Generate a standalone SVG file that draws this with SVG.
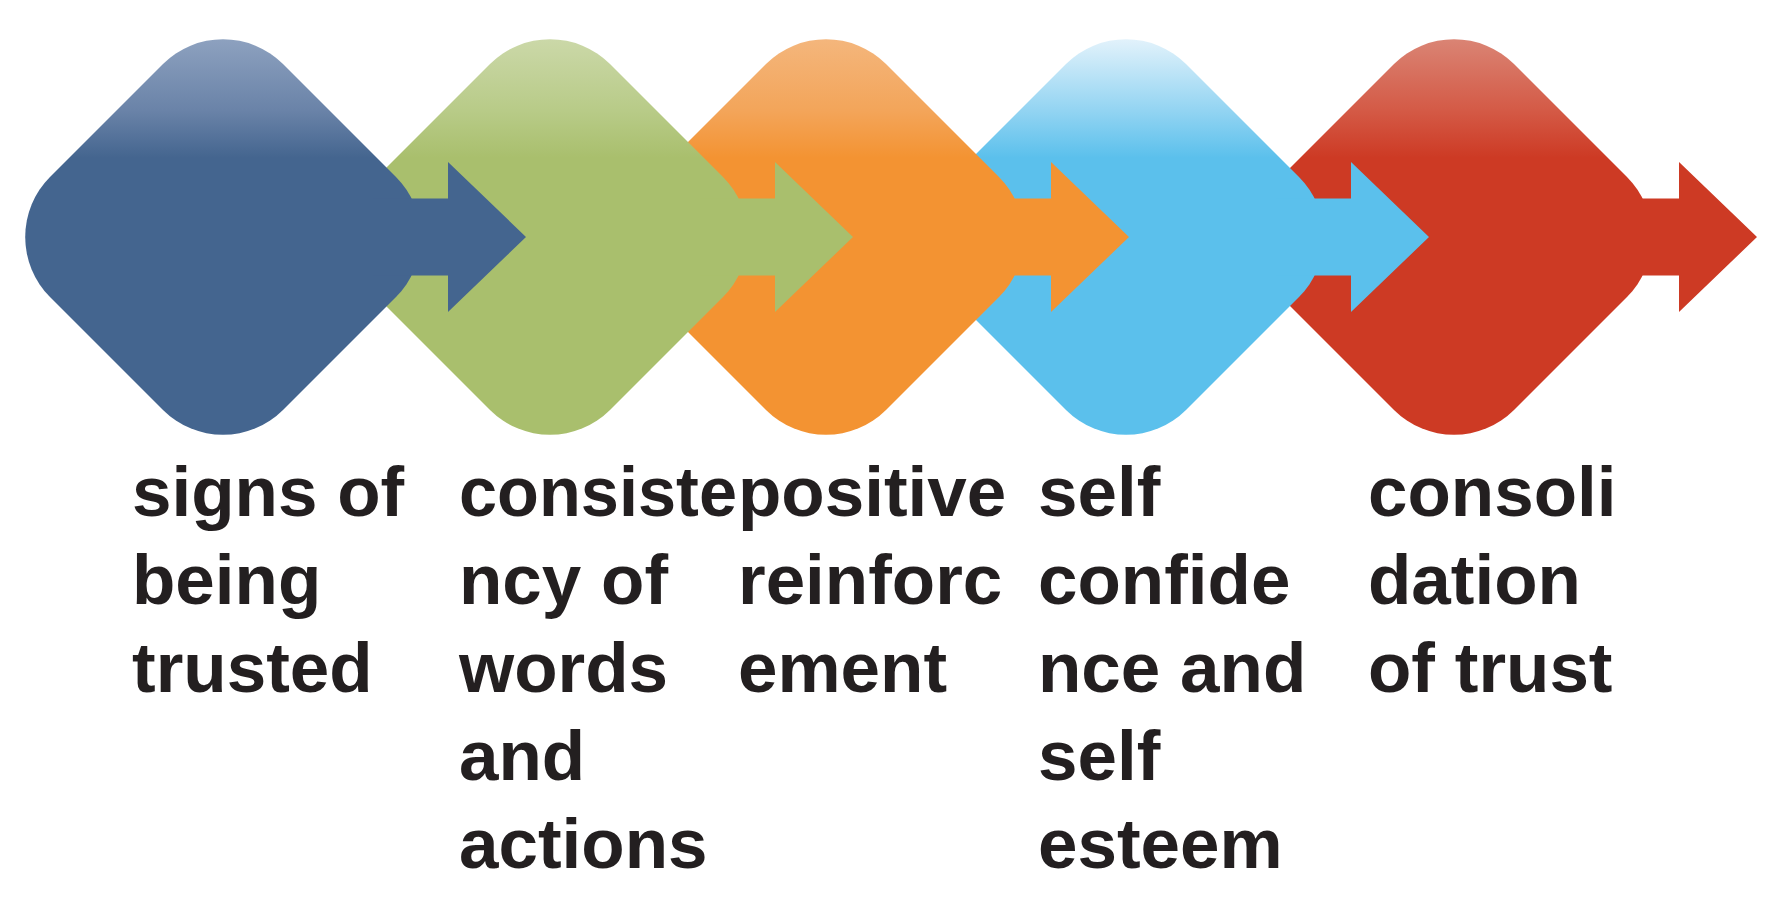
<svg xmlns="http://www.w3.org/2000/svg" xmlns:xlink="http://www.w3.org/1999/xlink" width="1784" height="904" viewBox="0 0 1784 904">
<defs>
<style>
.lbl{font-family:"Liberation Sans",Arial,sans-serif;font-weight:bold;font-size:71px;fill:#231f20}
</style>
<path id="dia" d="M-60,-173 A85,85 0 0 1 60,-173 L173,-60 A85,85 0 0 1 173,60 L60,173 A85,85 0 0 1 -60,173 L-173,60 A85,85 0 0 1 -173,-60 Z"/>
<path id="arr" d="M150,-38.5 L225,-38.5 L225,-75 L303,0 L225,75 L225,38.5 L150,38.5 Z"/>
<linearGradient id="gBlue" x1="0" y1="0" x2="0" y2="1">
<stop offset="0" stop-color="#8da1bf"/><stop offset="0.18" stop-color="#6a83a8"/><stop offset="0.3" stop-color="#44658f"/><stop offset="1" stop-color="#44658f"/>
</linearGradient>
<linearGradient id="gGreen" x1="0" y1="0" x2="0" y2="1">
<stop offset="0" stop-color="#cbd8a8"/><stop offset="0.18" stop-color="#b8cb88"/><stop offset="0.3" stop-color="#a9bf6d"/><stop offset="1" stop-color="#a9bf6d"/>
</linearGradient>
<linearGradient id="gOrange" x1="0" y1="0" x2="0" y2="1">
<stop offset="0" stop-color="#f4b67c"/><stop offset="0.18" stop-color="#f3a55a"/><stop offset="0.3" stop-color="#f39332"/><stop offset="1" stop-color="#f39332"/>
</linearGradient>
<linearGradient id="gLight" x1="0" y1="0" x2="0" y2="1">
<stop offset="0" stop-color="#e2f2fb"/><stop offset="0.18" stop-color="#93d4f2"/><stop offset="0.3" stop-color="#5bc0ec"/><stop offset="1" stop-color="#5bc0ec"/>
</linearGradient>
<linearGradient id="gRed" x1="0" y1="0" x2="0" y2="1">
<stop offset="0" stop-color="#da8474"/><stop offset="0.18" stop-color="#d45a46"/><stop offset="0.3" stop-color="#cd3a24"/><stop offset="1" stop-color="#cd3a24"/>
</linearGradient>
</defs>
<rect width="1784" height="904" fill="#ffffff"/>

<g id="node-consolidation">
<use xlink:href="#dia" href="#dia" transform="translate(1454,237)" fill="url(#gRed)"/>
<text class="lbl" x="1368" y="516">consoli</text>
<text class="lbl" x="1368" y="604">dation</text>
<text class="lbl" x="1368" y="692">of trust</text>
</g>
<g id="node-self-confidence">
<use xlink:href="#dia" href="#dia" transform="translate(1126,237)" fill="url(#gLight)"/>
<text class="lbl" x="1038" y="516">self</text>
<text class="lbl" x="1038" y="604">confide</text>
<text class="lbl" x="1038" y="692">nce and</text>
<text class="lbl" x="1038" y="780">self</text>
<text class="lbl" x="1038" y="868">esteem</text>
</g>
<g id="node-positive-reinforcement">
<use xlink:href="#dia" href="#dia" transform="translate(826,237)" fill="url(#gOrange)"/>
<text class="lbl" x="738" y="516">positive</text>
<text class="lbl" x="738" y="604">reinforc</text>
<text class="lbl" x="738" y="692">ement</text>
</g>
<g id="node-consistency">
<use xlink:href="#dia" href="#dia" transform="translate(550,237)" fill="url(#gGreen)"/>
<text class="lbl" x="459" y="516" textLength="278" lengthAdjust="spacingAndGlyphs">consiste</text>
<text class="lbl" x="459" y="604">ncy of</text>
<text class="lbl" x="459" y="692">words</text>
<text class="lbl" x="459" y="780">and</text>
<text class="lbl" x="459" y="868">actions</text>
</g>
<g id="node-signs">
<use xlink:href="#dia" href="#dia" transform="translate(223,237)" fill="url(#gBlue)"/>
<text class="lbl" x="132" y="516">signs of</text>
<text class="lbl" x="132" y="604">being</text>
<text class="lbl" x="132" y="692">trusted</text>
</g>

<g id="connectors">
<use xlink:href="#arr" href="#arr" transform="translate(1454,237)" fill="#cd3a24"/>
<use xlink:href="#arr" href="#arr" transform="translate(1126,237)" fill="#5bc0ec"/>
<use xlink:href="#arr" href="#arr" transform="translate(826,237)" fill="#f39332"/>
<use xlink:href="#arr" href="#arr" transform="translate(550,237)" fill="#a9bf6d"/>
<use xlink:href="#arr" href="#arr" transform="translate(223,237)" fill="#44658f"/>
</g>
</svg>
